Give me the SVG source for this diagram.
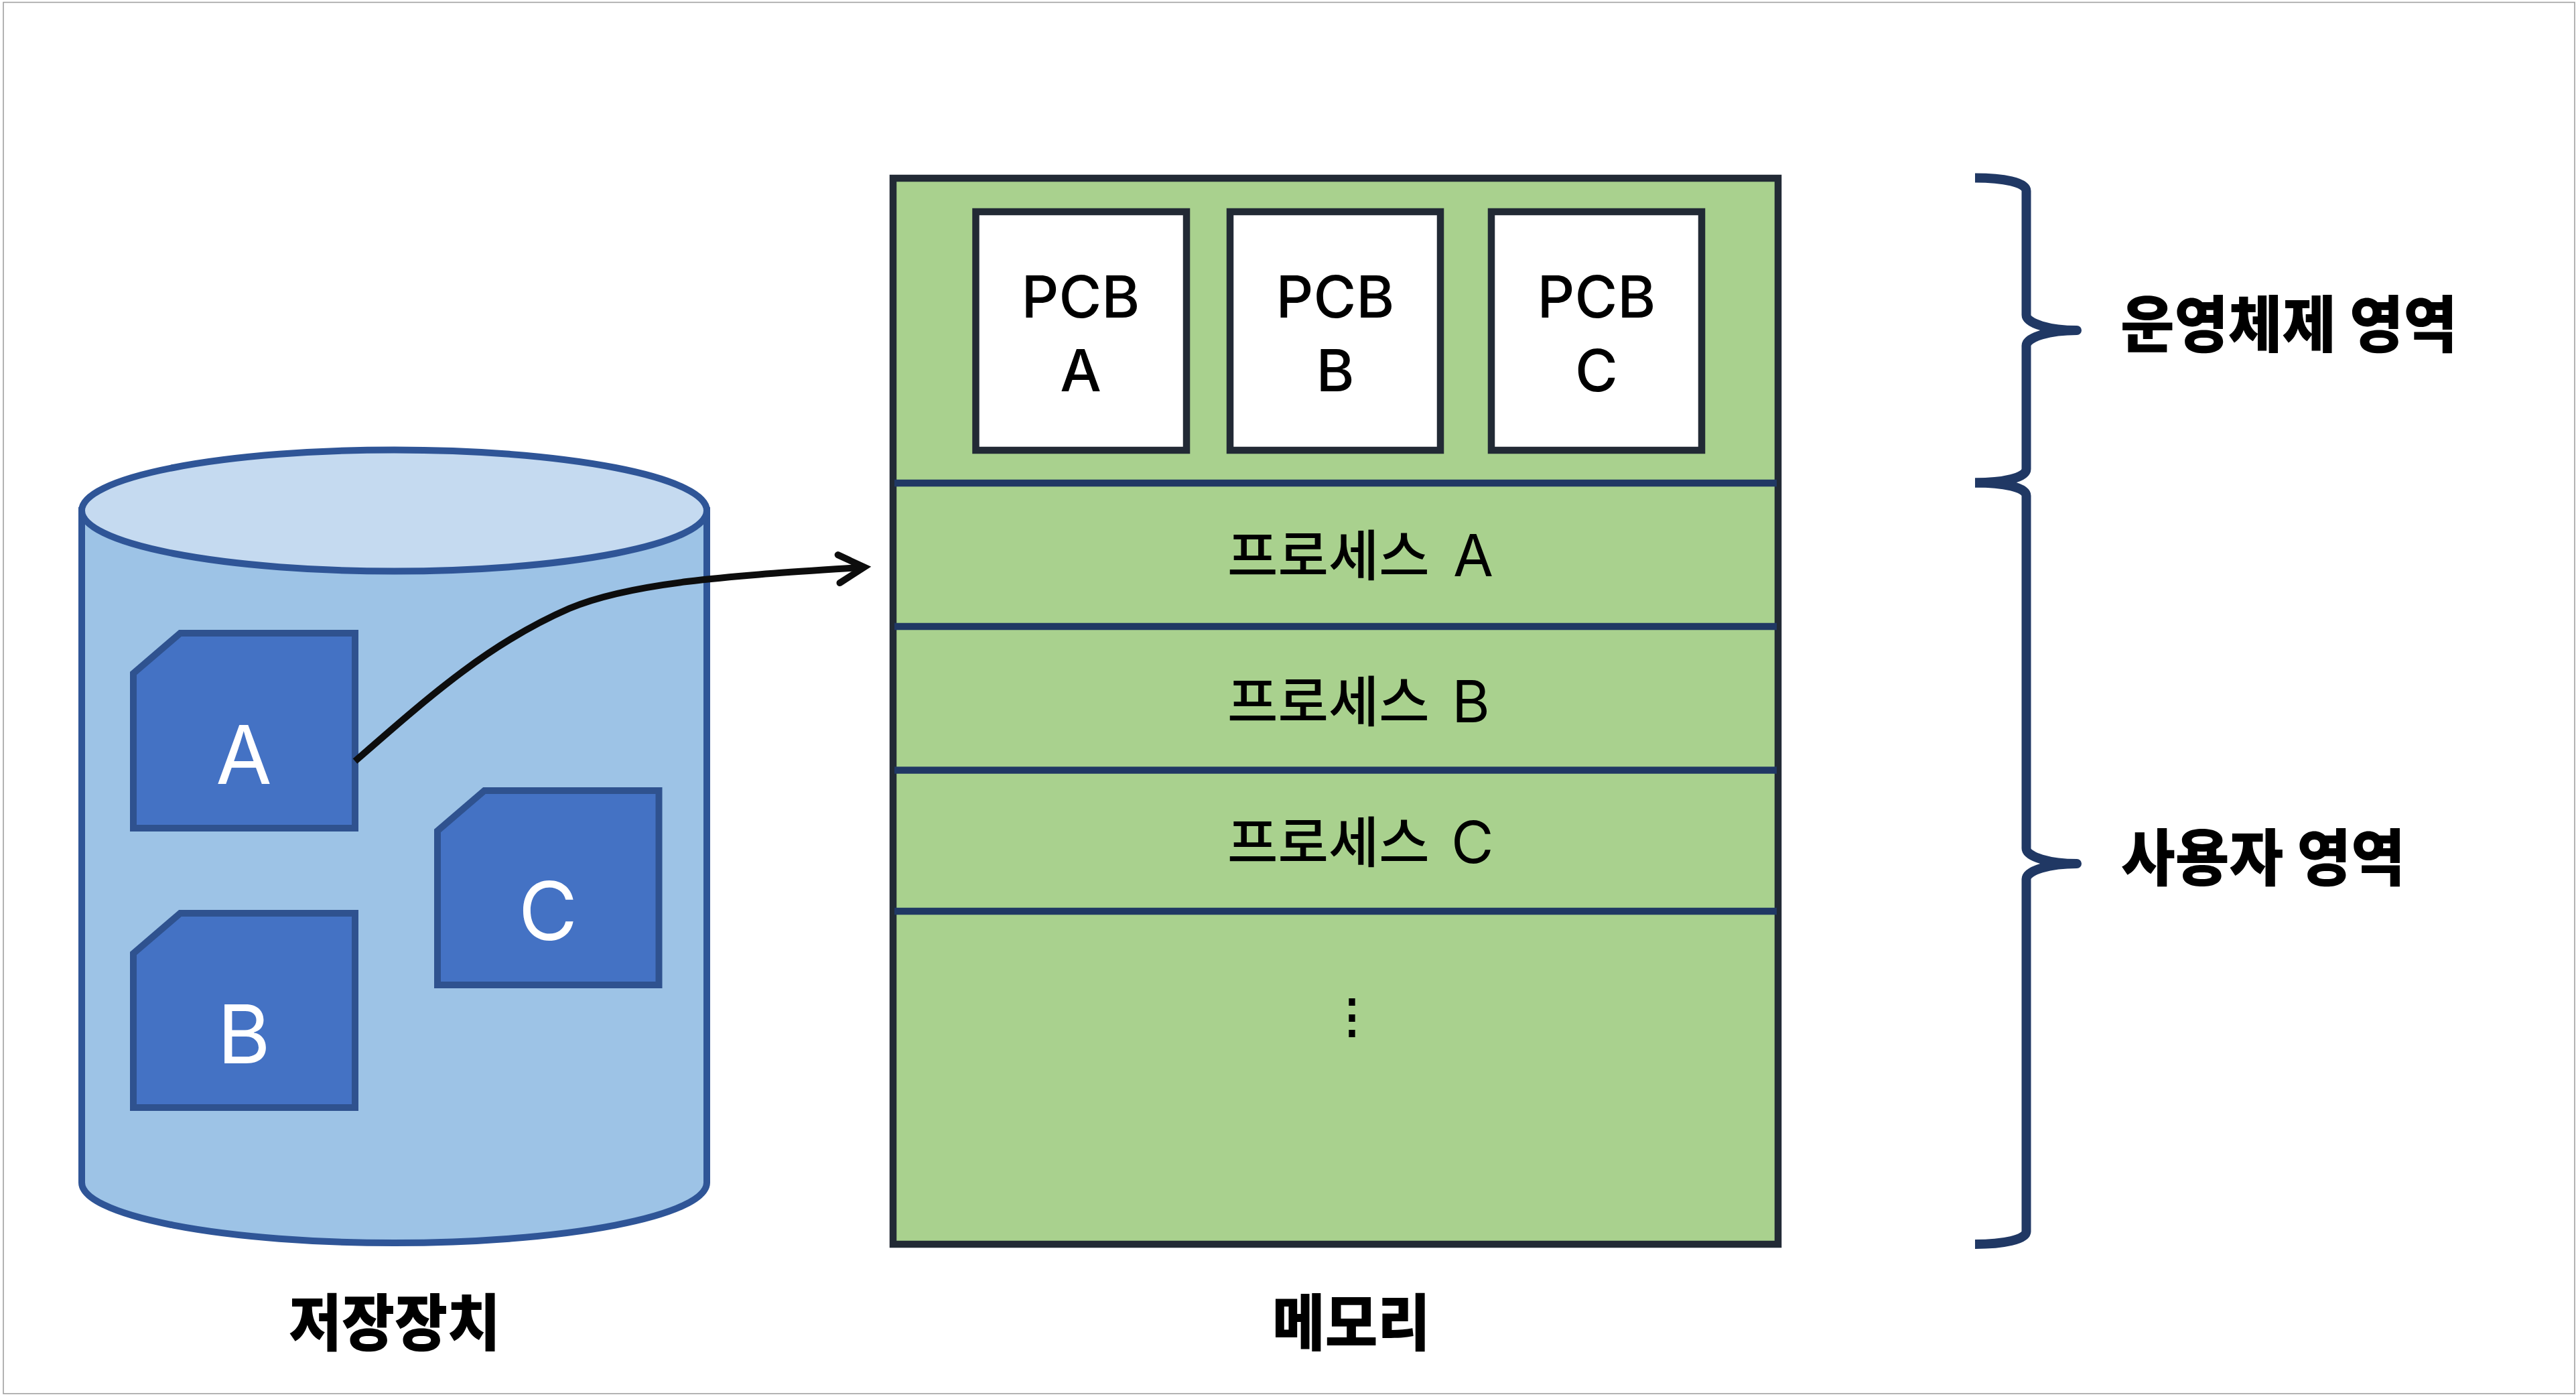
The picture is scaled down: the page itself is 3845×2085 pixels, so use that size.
<svg xmlns="http://www.w3.org/2000/svg" width="3845" height="2085" viewBox="0 0 3845 2085">
<defs>
<style>
.cyl{fill:#9dc3e6;stroke:#2f5597;stroke-width:10}
.cyltop{fill:#c5daf0;stroke:#2f5597;stroke-width:10}
.doc{fill:#4472c4;stroke:#2f528f;stroke-width:10;stroke-linejoin:miter}
.docl{font-family:"Inter","Noto Sans",sans-serif;font-size:121px;fill:#fff;text-anchor:middle;font-weight:400}
.pcb{fill:#fff;stroke:#222a35;stroke-width:10.500}
.pcbl{font-family:"Inter","Noto Sans",sans-serif;font-size:87px;fill:#000;text-anchor:middle;font-weight:500}
.proc{font-family:"Noto Sans CJK KR","Noto Sans",sans-serif;font-size:82px;fill:#000;font-weight:500}
.let{font-family:"Inter","Noto Sans",sans-serif;font-size:87px;font-weight:400}
.div{stroke:#203864;stroke-width:10.500;fill:none}
.brace{fill:none;stroke:#203864;stroke-width:14;stroke-linejoin:round}
.lab{font-family:"Noto Sans CJK KR",sans-serif;font-weight:900;font-size:92px;fill:#000}
</style>
<marker id="open" markerUnits="userSpaceOnUse" markerWidth="80" markerHeight="80" refX="58" refY="40" orient="auto" overflow="visible"><path d="M20 19L58 40L20 61" fill="none" stroke="#0d0d0d" stroke-width="10" stroke-linecap="round" stroke-linejoin="miter"/></marker>
</defs>
<rect x="5" y="3.500" width="3838" height="2076.500" fill="#fff" stroke="#a0a0a0" stroke-width="1.600"/>
<g id="storage">
<path class="cyl" d="M122 762V1765A466.500 90 0 0 0 1055 1765V762Z"/>
<ellipse class="cyltop" cx="588.500" cy="762" rx="466.500" ry="90.500"/>
<text class="lab" x="431" y="2008" textLength="316" lengthAdjust="spacingAndGlyphs">저장장치</text>
</g>
<g id="file-a"><path class="doc" d="M269 945H530V1236H199V1005Z"/><text class="docl" x="364" y="1170">A</text></g>
<g id="file-b"><path class="doc" d="M269 1363H530V1653H199V1423Z"/><text class="docl" x="364" y="1587">B</text></g>
<g id="file-c"><path class="doc" d="M723 1180H983.500V1470H653V1240Z"/><text class="docl" x="818" y="1403">C</text></g>
<g id="memory">
<rect x="1333" y="266" width="1321" height="1591" fill="#a9d18e" stroke="#222a35" stroke-width="10.500"/>
<path class="div" d="M1335 721H2652M1335 935H2652M1335 1149.500H2652M1335 1360H2652"/>
<text class="lab" x="1899" y="2008" textLength="236" lengthAdjust="spacingAndGlyphs">메모리</text>
</g>
<g id="pcb-a"><rect class="pcb" x="1456.500" y="316" width="314.500" height="356"/><text class="pcbl" x="1613" y="474">PCB</text><text class="pcbl" x="1613" y="584">A</text></g>
<g id="pcb-b"><rect class="pcb" x="1836" y="316" width="314" height="356"/><text class="pcbl" x="1993" y="474">PCB</text><text class="pcbl" x="1993" y="584">B</text></g>
<g id="pcb-c"><rect class="pcb" x="2226" y="316" width="314" height="356"/><text class="pcbl" x="2383" y="474">PCB</text><text class="pcbl" x="2383" y="584">C</text></g>
<g id="process-a"><text class="proc" x="1832" y="859">프로세스 <tspan class="let" x="2169" y="860">A</tspan></text></g>
<g id="process-b"><text class="proc" x="1832" y="1077">프로세스 <tspan class="let" x="2167" y="1078">B</tspan></text></g>
<g id="process-c"><text class="proc" x="1832" y="1287">프로세스 <tspan class="let" x="2166" y="1288">C</tspan></text></g>
<g id="ellipsis"><text x="2018" y="1541" font-family="Noto Sans CJK KR, sans-serif" font-size="70" font-weight="900" text-anchor="middle" fill="#000">⋮</text></g>
<g id="os-area"><text class="lab" x="3165" y="518" textLength="503" lengthAdjust="spacingAndGlyphs">운영체제 영역</text></g>
<g id="user-area"><text class="lab" x="3166" y="1314" textLength="424" lengthAdjust="spacingAndGlyphs">사용자 영역</text></g>
<g id="connectors">
<path d="M530 1136C640 1040 730 960 850 908C950 866 1120 858 1290 846.500" fill="none" stroke="#0d0d0d" stroke-width="10" marker-end="url(#open)"/>
<path class="brace" d="M2948 265.500C2990 265.500 3024.500 272 3024.500 285V470C3024.500 483 3060 493 3100 493C3060 493 3024.500 503 3024.500 516V700C3024.500 713 2990 720.500 2948 720.500"/>
<path class="brace" d="M2948 720.500C2990 720.500 3024.500 727 3024.500 740V1266C3024.500 1279 3060 1289 3100 1289C3060 1289 3024.500 1299 3024.500 1312V1838C3024.500 1850 2990 1857 2948 1857"/>
</g>
</svg>
